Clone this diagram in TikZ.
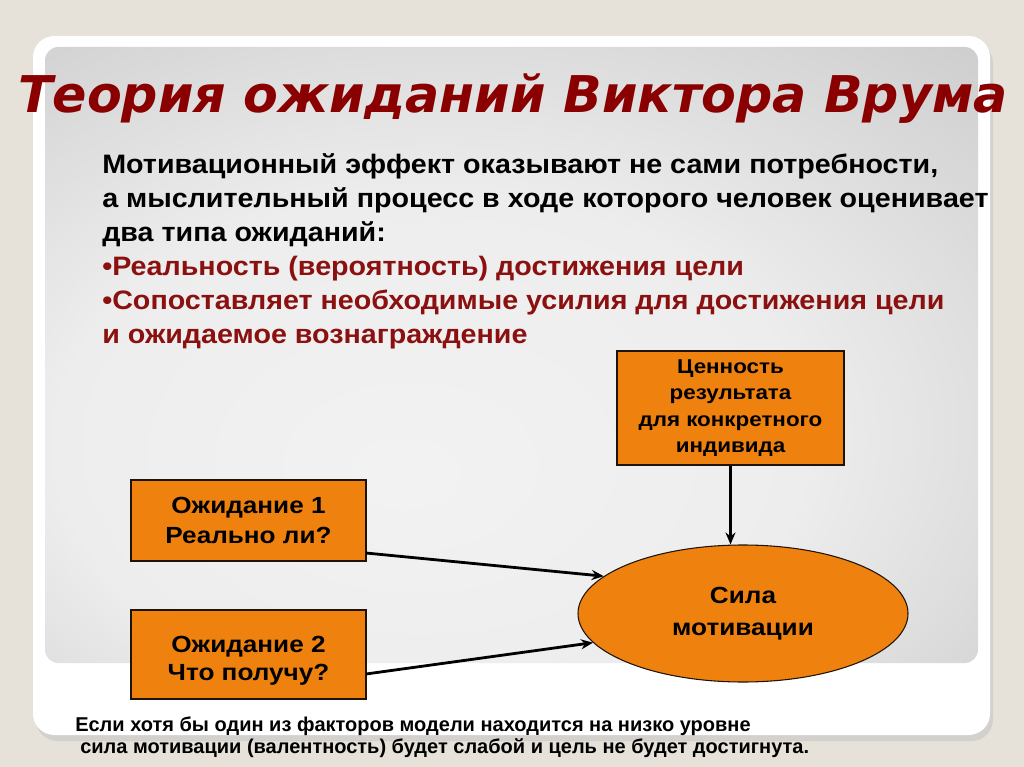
\documentclass[tikz,border=0pt]{standalone}
\usepackage{fontspec}
\setmainfont{Liberation Sans}
\newfontfamily\titlefont{DejaVu Sans}
\newfontfamily\bodyfont{Liberation Sans}[FakeStretch=1.075]
\newfontfamily\boxfont{Liberation Sans}[FakeStretch=1.12]
\usetikzlibrary{arrows.meta,shapes.geometric}
\definecolor{bgbeige}{HTML}{E6E1D9}
\definecolor{titlered}{HTML}{8A0000}
\definecolor{bulletred}{HTML}{8B1010}
\definecolor{boxorange}{HTML}{EF820E}
\pgfdeclareradialshading{panelshade}{\pgfpoint{-6bp}{-10bp}}{%
  color(0bp)=(white!95!black);
  color(20bp)=(white!93!black);
  color(50bp)=(white!75!black);
  color(72bp)=(white!57!black)}
\tikzset{
  bodytext/.style={anchor=base west, inner sep=0pt, font=\bodyfont\fontsize{20pt}{24pt}\selectfont\bfseries},
  boxshape/.style={draw=black!85!brown, line width=0.8pt, fill=boxorange, inner sep=0pt},
  boxtext/.style={boxshape, align=center, font=\boxfont\fontsize{17.5pt}{22.5pt}\selectfont\bfseries},
  boxlabel/.style={align=center, inner sep=0pt, font=\boxfont\fontsize{17.5pt}{21pt}\selectfont\bfseries},
  conn/.style={-{Stealth[length=9pt,width=7.5pt]}, line width=2.1pt, black},
  foot/.style={anchor=base west, inner sep=0pt, font=\fontsize{15pt}{18pt}\selectfont\bfseries},
  titletext/.style={anchor=base, inner sep=0pt, font=\titlefont\fontsize{38pt}{40pt}\selectfont\bfseries\itshape}
}
\begin{document}
\begin{tikzpicture}[x=0.75pt,y=-0.75pt]
\useasboundingbox (0,0) rectangle (1024,767);
\fill[bgbeige] (0,0) rectangle (1024,767);
% card shadow
\fill[black!22, opacity=0.6, rounded corners=16pt] (36,42) rectangle (993,741);
% white card
\fill[white, rounded corners=16pt] (33,36) rectangle (990,735);
% gray panel
\shade[shading=panelshade, rounded corners=10pt] (45,47) rectangle (978,663);
% title
\node (title) [titletext, text=titlered] at (513,113) {Теория ожиданий Виктора Врума};
% body text
\node (l1) [bodytext] at (102,173) {Мотивационный эффект оказывают не сами потребности,};
\node (l2) [bodytext] at (102,207) {а мыслительный процесс в ходе которого человек оценивает};
\node (l3) [bodytext] at (102,241) {два типа ожиданий:};
\node (l4) [bodytext, text=bulletred] at (102,275) {•Реальность (вероятность) достижения цели};
\node (l5) [bodytext, text=bulletred] at (102,309) {•Сопоставляет необходимые усилия для достижения цели};
\node (l6) [bodytext, text=bulletred] at (102,343) {и ожидаемое вознаграждение};
% boxes
\node (value) [boxtext, font=\boxfont\fontsize{15pt}{19.8pt}\selectfont\bfseries,
  minimum width=227pt*0.75, minimum height=114pt*0.75] at (730.5,408)
  {Ценность\\результата\\для конкретного\\индивида};
\node (exp1) [boxtext, minimum width=235pt*0.75, minimum height=81pt*0.75] at (248.5,520.5)
  {Ожидание 1\\Реально ли?};
\node (exp2) [boxshape, minimum width=235pt*0.75, minimum height=89pt*0.75] at (248.5,654.5) {};
\node (exp2t) [boxlabel] at (248.5,661) {Ожидание 2\\Что получу?};
\node (force) [ellipse, boxshape, minimum width=330pt*0.75, minimum height=137pt*0.75,
  align=center, font=\boxfont\fontsize{17.5pt}{24pt}\selectfont\bfseries] at (743,613.5) {Сила\\мотивации};
% arrows
\coordinate (a1) at (366,553);
\coordinate (a2) at (366,674);
\draw[conn] (value.south) -- (value.south |- force.north);
\draw[conn] (a1) -- (force.165);
\draw[conn] (a2) -- (force.191);
% footnote
\node (f1) [foot] at (75,731) {Если хотя бы один из факторов модели находится на низко уровне};
\node (f2) [foot] at (80,753) {сила мотивации (валентность) будет слабой и цель не будет достигнута.};
\end{tikzpicture}
\end{document}
